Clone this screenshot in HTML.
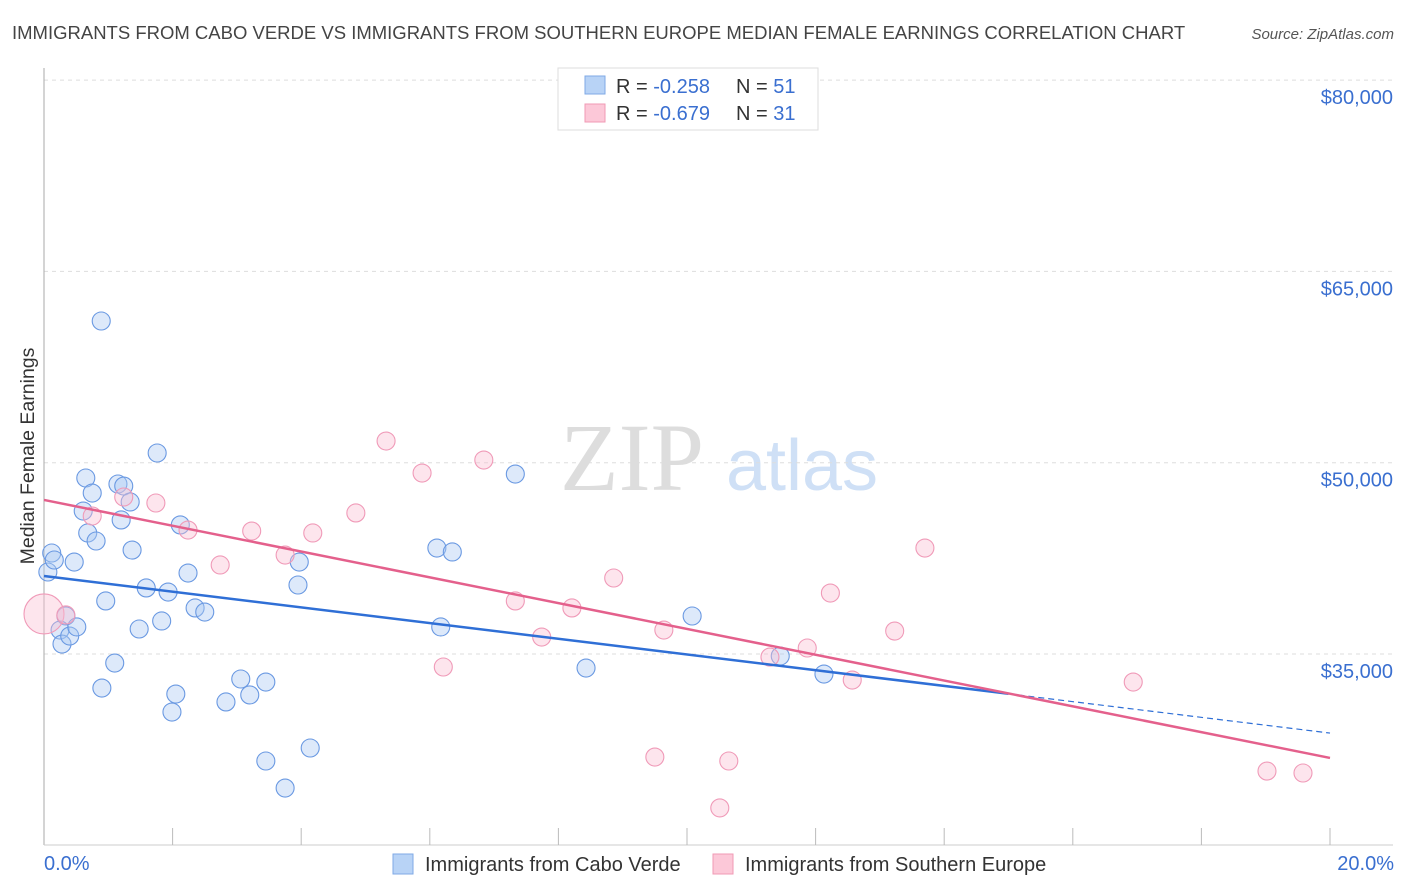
<!DOCTYPE html>
<html><head><meta charset="utf-8"><style>
body{margin:0;background:#fff;font-family:"Liberation Sans",sans-serif;}
svg{display:block}
</style></head><body>
<svg id="chart" width="1406" height="892" xmlns="http://www.w3.org/2000/svg">
<text x="12" y="39" font-size="18.5" fill="#444">IMMIGRANTS FROM CABO VERDE VS IMMIGRANTS FROM SOUTHERN EUROPE MEDIAN FEMALE EARNINGS CORRELATION CHART</text>
<text x="1394" y="39" font-size="15" fill="#555" font-style="italic" text-anchor="end">Source: ZipAtlas.com</text>
<g>
<text x="632" y="490" font-size="96" font-family="Liberation Serif,serif" fill="#ddd" text-anchor="middle">ZIP</text>
<text x="802" y="490" font-size="72" fill="#cfe0f6" text-anchor="middle">atlas</text>
</g>
<g id="grid"></g>
<line x1="44" y1="68" x2="44" y2="845" stroke="#aaa" stroke-width="1"/>
<line x1="44" y1="845" x2="1393" y2="845" stroke="#ccc" stroke-width="1"/>
<g id="ticks"></g>
<g id="pts"></g>
<g id="trend"></g>
<text transform="translate(34,456) rotate(-90)" font-size="19.5" fill="#333" text-anchor="middle">Median Female Earnings</text>
<text x="44" y="870" font-size="20" fill="#3a6fd0">0.0%</text>
<text x="1394" y="870" font-size="20" fill="#3a6fd0" text-anchor="end">20.0%</text>
<g>
<rect x="558" y="68" width="260" height="62" fill="#fff" stroke="#ddd"/>
<rect x="585" y="76" width="20" height="18" fill="#b8d3f6" stroke="#7fa9e6"/>
<rect x="585" y="104" width="20" height="18" fill="#fcc8d8" stroke="#f09ab4"/>
<text x="616" y="93" font-size="20" fill="#333">R = <tspan fill="#3a6fd0">-0.258</tspan></text>
<text x="736" y="93" font-size="20" fill="#333">N = <tspan fill="#3a6fd0">51</tspan></text>
<text x="616" y="120" font-size="20" fill="#333">R = <tspan fill="#3a6fd0">-0.679</tspan></text>
<text x="736" y="120" font-size="20" fill="#333">N = <tspan fill="#3a6fd0">31</tspan></text>
</g>
<g>
<rect x="393" y="854" width="20" height="20" fill="#b8d3f6" stroke="#7fa9e6"/>
<text x="425" y="871" font-size="20" fill="#333">Immigrants from Cabo Verde</text>
<rect x="713" y="854" width="20" height="20" fill="#fcc8d8" stroke="#f09ab4"/>
<text x="745" y="871" font-size="20" fill="#333">Immigrants from Southern Europe</text>
</g>
</svg>
<script>
const yTicks=[35000,50000,65000,80000];
const yTickLabels=["$35,000","$50,000","$65,000","$80,000"];
const xTicks=[0,2,4,6,8,10,12,14,16,18,20];
const blueX=[0.06,0.12,0.16,0.34,0.25,0.28,0.40,0.47,0.51,0.61,0.65,0.68,0.75,0.81,0.89,0.90,0.96,1.10,1.15,1.24,1.20,1.34,1.37,1.48,1.59,1.76,1.83,1.93,1.99,2.05,2.12,2.24,2.35,2.50,2.83,3.06,3.20,3.45,3.45,3.75,3.97,3.95,4.14,6.11,6.17,6.35,7.33,8.43,10.08,11.45,12.13];
const blueY=[41430,42920,42370,37980,36880,35780,36410,42210,37120,46210,48800,44490,47620,43860,61110,32330,39160,34290,48330,48170,45510,46920,43150,36960,40180,50760,37590,39860,30450,31860,45120,41350,38610,38290,31240,33040,31790,32800,26610,24490,42210,40410,27630,43310,37120,43000,49110,33900,37980,34840,33430];
const pinkX=[0,0.34,0.75,1.24,1.74,2.24,2.74,3.23,3.75,4.18,4.85,5.32,5.88,6.21,6.84,7.33,7.74,8.21,8.86,9.50,9.64,10.51,10.65,11.29,11.87,12.23,12.57,13.23,13.70,16.94,19.02,19.58];
const pinkY=[38140,38060,45820,47310,46840,44720,41980,44640,42760,44490,46060,51700,49190,33980,50210,39160,36330,38610,40960,26920,36880,22930,26610,34760,35470,39780,32960,36800,43310,32800,25820,25670];
const pinkR=[20,9,9,9,9,9,9,9,9,9,9,9,9,9,9,9,9,9,9,9,9,9,9,9,9,9,9,9,9,9,9,9];
const blueTrend=[41120,28800];
const pinkTrend=[47080,26850];
const blueSolidEnd=15.0;
const NS="http://www.w3.org/2000/svg";
const xs=v=>44+v/20*1286;
const ys=v=>654-(v-35000)/15000*191.3;
function mk(tag,at,parent){const e=document.createElementNS(NS,tag);for(const k in at)e.setAttribute(k,at[k]);document.getElementById(parent).appendChild(e);return e;}
yTicks.forEach((t,i)=>{
 const g=mk('line',{x1:44,x2:1393,y1:ys(t),y2:ys(t),stroke:'#ddd','stroke-dasharray':'4,4'},'grid');
 
 
 const l=mk('text',{x:1393,y:ys(t)+24,'font-size':20,fill:'#3a6fd0','text-anchor':'end'},'grid');
 
 
 l.textContent=yTickLabels[i];
});
xTicks.forEach(t=>{
 if(t===0)return;
 const k=mk('line',{x1:xs(t),x2:xs(t),y1:828,y2:845,stroke:'#bbb'},'ticks');
 
 
});
blueX.forEach((x,i)=>{
 const c=mk('circle',{cx:xs(x),cy:ys(blueY[i]),r:9,fill:'rgba(170,200,242,0.4)',stroke:'#6a99e2','stroke-width':1.1},'pts');
 
 
});
pinkX.forEach((x,i)=>{
 const c=mk('circle',{cx:xs(x),cy:ys(pinkY[i]),r:pinkR[i],fill:'rgba(250,190,210,0.4)',stroke:'#f09ab8','stroke-width':1.1},'pts');
 
 
});
const bAt=x=>blueTrend[0]+(blueTrend[1]-blueTrend[0])*x/20;
let t1=mk('line',{x1:xs(0),y1:ys(bAt(0)),x2:xs(blueSolidEnd),y2:ys(bAt(blueSolidEnd)),stroke:'#2f6fd6','stroke-width':2.5},'trend');


let t2=mk('line',{x1:xs(blueSolidEnd),y1:ys(bAt(blueSolidEnd)),x2:xs(20),y2:ys(bAt(20)),stroke:'#2f6fd6','stroke-width':1.2,'stroke-dasharray':'6,4'},'trend');


let t3=mk('line',{x1:xs(0),y1:ys(pinkTrend[0]),x2:xs(20),y2:ys(pinkTrend[1]),stroke:'#e4608c','stroke-width':2.5},'trend');


</script>
</body></html>
